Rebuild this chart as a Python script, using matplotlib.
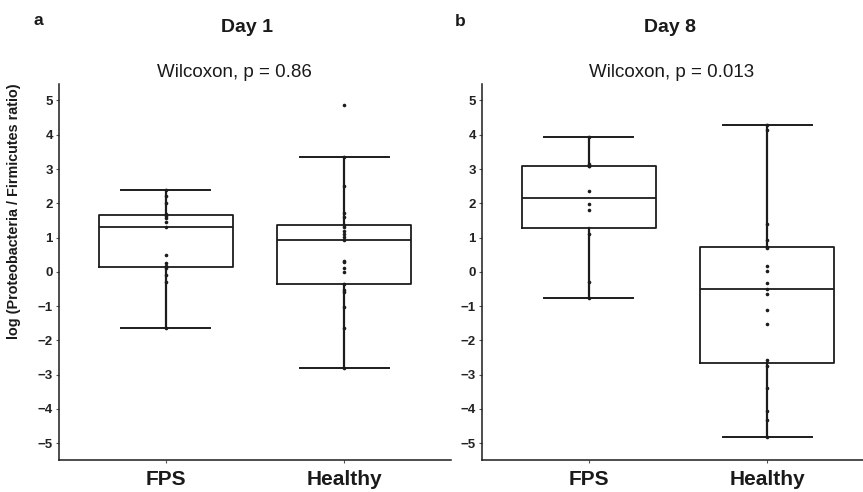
import numpy as np
import matplotlib
matplotlib.use("Agg")
import matplotlib.pyplot as plt

plt.rcParams['font.family'] = ['Liberation Sans', 'DejaVu Sans']
plt.rcParams['axes.unicode_minus'] = True

groups = ["FPS", "Healthy"]
panel_letters = ["a", "b"]
panel_titles = ["Day 1", "Day 8"]
p_labels = ["Wilcoxon, p = 0.86", "Wilcoxon, p = 0.013"]
ylabel = "log (Proteobacteria / Firmicutes ratio)"
yticks = [-5, -4, -3, -2, -1, 0, 1, 2, 3, 4, 5]

day1_fps = [-1.64, -0.30, -0.08, 0.12, 0.18, 0.27, 0.50, 1.31, 1.45, 1.58,
            1.64, 1.68, 2.00, 2.20, 2.39]
day1_healthy = [-2.80, -1.63, -1.02, -0.60, -0.52, -0.35, 0.00, 0.12, 0.28, 0.32,
                0.93, 1.02, 1.10, 1.20, 1.30, 1.36, 1.60, 1.72, 2.50, 3.34, 4.86]
day8_fps = [-0.75, -0.30, 1.10, 1.79, 1.98, 2.35, 3.09, 3.09, 3.15, 3.93]
day8_healthy = [-4.82, -4.31, -4.07, -3.40, -2.76, -2.56, -1.51, -1.12, -0.66, -0.49,
                -0.34, 0.03, 0.18, 0.70, 0.72, 0.92, 1.39, 4.15, 4.27]

panels = [[day1_fps, day1_healthy], [day8_fps, day8_healthy]]

W, H = 863, 492
fig = plt.figure(figsize=(W / 100, H / 100), dpi=100)
fig.patch.set_facecolor("white")

ink = "#1c1c1c"
ax_left_px = [59, 482]
ax_w_px = 392
ax_top_px, ax_bot_px = 84, 460
plabel_left_px = [157, 589]

for i, data in enumerate(panels):
    ax = fig.add_axes([ax_left_px[i] / W, 1 - ax_bot_px / H,
                       ax_w_px / W, (ax_bot_px - ax_top_px) / H])
    pos = [1, 2]
    ax.boxplot(data, positions=pos, widths=0.75, capwidths=0.5,
               showfliers=False, patch_artist=False,
               boxprops=dict(color=ink, lw=1.3),
               medianprops=dict(color=ink, lw=1.3),
               whiskerprops=dict(color=ink, lw=1.6),
               capprops=dict(color=ink, lw=1.4))
    for p, vals in zip(pos, data):
        ax.plot(np.full(len(vals), p), vals, 'o', ms=2.6, color=ink,
                mec=ink, mew=0, zorder=5)
    ax.set_xlim(0.4, 2.6)
    ax.set_ylim(-5.49, 5.48)
    ax.set_yticks(yticks)
    ax.set_yticklabels([f"{t}".replace("-", "\u2212") for t in yticks],
                       fontweight="bold", fontsize=9.5, color="#222222")
    ax.set_xticks(pos)
    ax.set_xticklabels(groups, fontweight="bold", fontsize=15, color="#1a1a1a")
    for s in ["top", "right"]:
        ax.spines[s].set_visible(False)
    for s in ["left", "bottom"]:
        ax.spines[s].set_color(ink)
        ax.spines[s].set_linewidth(1.1)
    ax.tick_params(axis="y", length=2.5, width=0.8, color="#555555", pad=2)
    ax.tick_params(axis="x", length=2.5, width=0.8, color="#555555", pad=5)
    ax.set_facecolor("white")

    cx = ax_left_px[i] + ax_w_px / 2
    fig.text(plabel_left_px[i] / W, 1 - 77 / H, p_labels[i], ha="left",
             va="baseline", fontsize=13.5, color="#1a1a1a")
    fig.text((cx - 8) / W, 1 - 32 / H, panel_titles[i], ha="center",
             va="baseline", fontsize=14, fontweight="bold", color="#1a1a1a")

fig.text(38 / W, 1 - 25 / H, panel_letters[0], ha="center", va="baseline",
         fontsize=12.5, fontweight="bold", color="#1a1a1a")
fig.text(460 / W, 1 - 26 / H, panel_letters[1], ha="center", va="baseline",
         fontsize=12.5, fontweight="bold", color="#1a1a1a")
fig.text(14 / W, 1 - 211 / H, ylabel, rotation=90, ha="center", va="center",
         fontsize=10.4, fontweight="bold", color="#1a1a1a")

fig.savefig("out.png", dpi=100, facecolor="white")
